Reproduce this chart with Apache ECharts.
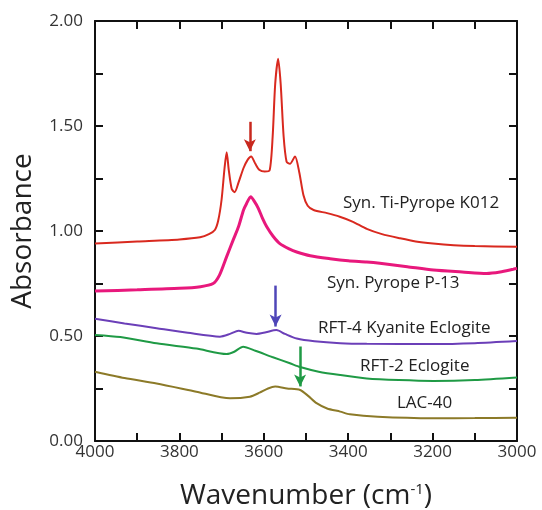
<!DOCTYPE html>
<html>
<head>
<meta charset="utf-8">
<script src="https://cdn.jsdelivr.net/npm/echarts@6/dist/echarts.min.js"></script>
<style>
  html, body { margin: 0; padding: 0; background: #fff; }
  #main { width: 542px; height: 510px; }
</style>
</head>
<body>
<div id="main"></div>
<script>
// spectra, [wavenumber, absorbance]
var tiPyrope = [
  [4000,0.94],[3900,0.95],[3800,0.96],[3751,0.97],[3730,0.985],[3716,1.005],[3708,1.05],
  [3700,1.15],[3693,1.30],[3688,1.375],[3683,1.29],[3676,1.20],[3669,1.185],[3660,1.23],
  [3648,1.30],[3638,1.34],[3630,1.355],[3620,1.32],[3610,1.29],[3598,1.283],[3586,1.29],
  [3579,1.45],[3573,1.70],[3566,1.82],[3560,1.70],[3553,1.45],[3546,1.33],[3538,1.32],
  [3526,1.355],[3516,1.28],[3506,1.17],[3496,1.12],[3482,1.10],[3450,1.085],[3420,1.068],
  [3390,1.045],[3356,1.01],[3320,0.985],[3277,0.965],[3240,0.95],[3199,0.94],[3150,0.932],
  [3100,0.928],[3000,0.925]
];
var pyrope = [
  [4000,0.714],[3900,0.72],[3800,0.727],[3750,0.735],[3720,0.75],[3705,0.79],[3688,0.878],
  [3672,0.96],[3660,1.02],[3648,1.10],[3641,1.13],[3631,1.163],[3622,1.14],[3613,1.108],
  [3603,1.06],[3593,1.02],[3578,0.975],[3562,0.94],[3540,0.915],[3522,0.90],[3490,0.882],
  [3443,0.868],[3400,0.858],[3356,0.852],[3325,0.846],[3260,0.83],[3198,0.814],[3130,0.805],
  [3072,0.798],[3040,0.805],[3009,0.818],[3000,0.822]
];
var kyaniteEclogite = [
  [4000,0.582],[3930,0.56],[3854,0.537],[3780,0.515],[3704,0.497],[3680,0.51],[3660,0.525],
  [3640,0.515],[3617,0.51],[3595,0.518],[3570,0.528],[3550,0.51],[3522,0.488],[3480,0.475],
  [3419,0.466],[3356,0.463],[3200,0.462],[3100,0.466],[3000,0.476]
];
var eclogite = [
  [4000,0.505],[3940,0.495],[3854,0.465],[3760,0.44],[3688,0.414],[3670,0.425],[3649,0.449],
  [3620,0.43],[3580,0.40],[3538,0.37],[3514,0.352],[3470,0.33],[3419,0.314],[3356,0.298],
  [3280,0.29],[3198,0.286],[3100,0.29],[3000,0.302]
];
var lac40 = [
  [4000,0.33],[3930,0.30],[3854,0.274],[3760,0.235],[3680,0.203],[3633,0.211],[3610,0.23],
  [3590,0.25],[3573,0.259],[3545,0.25],[3514,0.243],[3495,0.215],[3475,0.18],[3450,0.155],
  [3419,0.14],[3396,0.127],[3330,0.115],[3198,0.108],[3100,0.109],[3000,0.111]
];
// arrows: [wavenumber, from, to]
var arrowRed = [3633, 1.52, 1.38];
var arrowBlue = [3572, 0.74, 0.545];
var arrowGreen = [3514, 0.45, 0.26];
var xTicks = [4000, 3800, 3600, 3400, 3200, 3000];

var chart = echarts.init(document.getElementById('main'));
var font = 'Open Sans';

function arrow(a, color) {
  return {
    silent: true,
    symbol: ['none', 'arrow'],
    symbolSize: [9, 12],
    lineStyle: { color: color, width: 2.5, type: 'solid' },
    label: { show: false },
    data: [[{ coord: [a[0], a[1]] }, { coord: [a[0], a[2]] }]]
  };
}

function spec(name, data, color, width, ar, arColor) {
  var s = {
    name: name, type: 'line', data: data, showSymbol: false, smooth: 0.25,
    lineStyle: { color: color, width: width }, animation: false
  };
  if (ar) s.markLine = arrow(ar, arColor);
  return s;
}

// short ticks (<=6) came out invisible, 8 shows
function tick() {
  return { show: true, inside: true, length: 8, lineStyle: { color: '#111', width: 2 } };
}

var option = {
  animation: false,
  grid: { left: 95, right: 25, top: 21, bottom: 69, outerBoundsMode: 'none' },
  xAxis: [{
    type: 'value', min: 3000, max: 4000, interval: 100, inverse: true,
    name: 'Wavenumber (cm{sup|-1})', nameLocation: 'middle', nameGap: 41,
    nameTextStyle: {
      fontFamily: font, fontSize: 28, color: '#222',
      rich: { sup: { fontFamily: font, fontSize: 15, color: '#222', verticalAlign: 'top', padding: [0, 0, 14, 0] } }
    },
    axisLine: { show: true, lineStyle: { color: '#111', width: 2 } },
    axisTick: tick(), splitLine: { show: false },
    axisLabel: {
      fontFamily: font, fontSize: 17, color: '#333', margin: 3,
      showMinLabel: true, showMaxLabel: true,
      formatter: function (v) { return xTicks.indexOf(v) >= 0 ? String(v) : ''; }
    }
  }, {
    type: 'value', min: 3000, max: 4000, interval: 100, inverse: true, position: 'top',
    axisLine: { show: true, onZero: false, lineStyle: { color: '#111', width: 2 } },
    axisTick: tick(), axisLabel: { show: false }, splitLine: { show: false }
  }],
  yAxis: [{
    type: 'value', min: 0, max: 2, interval: 0.25,
    name: 'Absorbance', nameLocation: 'middle', nameGap: 58,
    nameTextStyle: { fontFamily: font, fontSize: 28, color: '#222' },
    axisLine: { show: true, lineStyle: { color: '#111', width: 2 } },
    axisTick: tick(), splitLine: { show: false },
    axisLabel: {
      fontFamily: font, fontSize: 17, color: '#333', margin: 12,
      showMinLabel: true, showMaxLabel: true,
      formatter: function (v) { return (Math.round(v * 100) % 50 === 0) ? v.toFixed(2) : ''; }
    }
  }, {
    type: 'value', min: 0, max: 2, interval: 0.25, position: 'right',
    axisLine: { show: true, onZero: false, lineStyle: { color: '#111', width: 2 } },
    axisTick: tick(), axisLabel: { show: false }, splitLine: { show: false }
  }],
  series: [
    spec('Syn. Ti-Pyrope K012', tiPyrope, '#d9291f', 2, arrowRed, '#c8281e'),
    spec('Syn. Pyrope P-13', pyrope, '#e8187c', 3),
    spec('RFT-4 Kyanite Eclogite', kyaniteEclogite, '#6b3fb8', 2, arrowBlue, '#4f46b8'),
    spec('RFT-2 Eclogite', eclogite, '#1f9a45', 2, arrowGreen, '#1f9a45'),
    spec('LAC-40', lac40, '#8c7a28', 2)
  ],
  graphic: [
    { type: 'text', left: 343, top: 195, style: { text: 'Syn. Ti-Pyrope K012', fontFamily: font, fontSize: 17, fill: '#222' } },
    { type: 'text', left: 327, top: 275, style: { text: 'Syn. Pyrope P-13', fontFamily: font, fontSize: 17, fill: '#222' } },
    { type: 'text', left: 318, top: 320, style: { text: 'RFT-4 Kyanite Eclogite', fontFamily: font, fontSize: 17, fill: '#222' } },
    { type: 'text', left: 360, top: 358, style: { text: 'RFT-2 Eclogite', fontFamily: font, fontSize: 17, fill: '#222' } },
    { type: 'text', left: 397, top: 395, style: { text: 'LAC-40', fontFamily: font, fontSize: 17, fill: '#222' } }
  ]
};

chart.setOption(option);
window.onresize = function () { chart.resize(); };
</script>
</body>
</html>
